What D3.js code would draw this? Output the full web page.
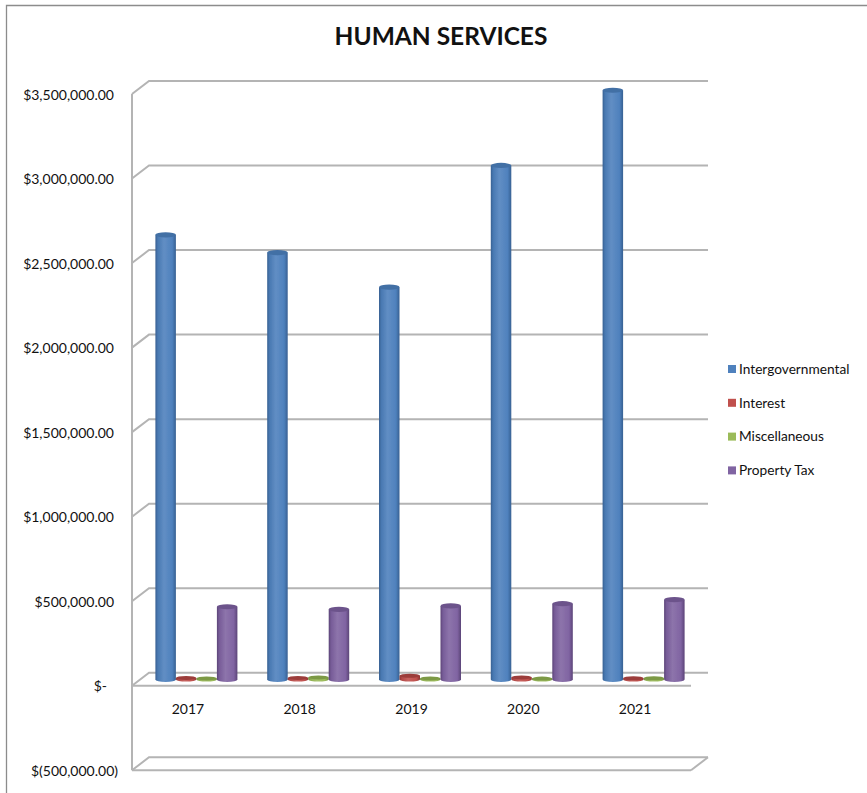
<!DOCTYPE html>
<html><head><meta charset="utf-8">
<script src="https://cdn.jsdelivr.net/npm/d3@7/dist/d3.min.js"></script>
<style>html,body{margin:0;padding:0;background:#fff}svg{display:block}text{font-family:Lato,"Open Sans",sans-serif;fill:#111}</style>
</head><body><div id="chart"></div>
<script>
const years = ["2017","2018","2019","2020","2021"];
const seriesNames = ["Intergovernmental","Interest","Miscellaneous","Property Tax"];
const intergovernmental = [2630000,2525000,2320000,3040000,3485000];
const interest = [9000,9000,22000,12000,7000];
const miscellaneous = [6000,12000,6000,5000,7000];
const propertyTax = [430000,415000,435000,448000,472000];
const seriesValues = [intergovernmental,interest,miscellaneous,propertyTax];
const tickValues = [-500000,0,500000,1000000,1500000,2000000,2500000,3000000,3500000];
const title = "HUMAN SERVICES";
const colors = ["#4f81bd","#c0504d","#9bbb59","#8064a2"];
const darks = ["#376092","#8c3533","#6f8a3c","#5c4578"];

const W=867,H=793, depthX=17, depthY=13, midX=8.5, midY=6.3, ry=2.6;
const svg=d3.select("#chart").append("svg").attr("width",W).attr("height",H);
const defs=svg.append("defs");
colors.forEach((c,i)=>{
  const g=defs.append("linearGradient").attr("id","cyl"+i);
  [[0,darks[i]],[.12,d3.interpolateRgb(darks[i],c)(.75)],[.42,d3.interpolateRgb(c,"#fff")(.1)],[.82,c],[1,darks[i]]]
    .forEach(([o,col])=>g.append("stop").attr("offset",o).attr("stop-color",col));
});
defs.append("filter").attr("id","soft").append("feGaussianBlur").attr("stdDeviation",.5);

const x=d3.scaleBand().domain(years).range([132,691]);
const y=d3.scaleLinear().domain([-500000,3500000]).range([770.3,94]);
const inner=d3.scaleBand().domain(seriesNames).range([x.bandwidth()/2-32.5,x.bandwidth()/2+49.5]);

// frame
svg.append("path").attr("d",`M6.5,${H}V5.5H${W}`).attr("fill","none").attr("stroke","#8c8c8c").attr("stroke-width",1.3);

// title
svg.append("text").attr("x",441).attr("y",44.5).attr("text-anchor","middle")
  .attr("font-size",24.5).attr("font-weight",700).text(title);

// walls and gridlines
const grid=svg.append("g").attr("fill","none").attr("stroke","#b4b4b4").attr("stroke-width",2).attr("filter","url(#soft)");
const x0=x.range()[0], x1=x.range()[1];
grid.selectAll("path.g").data(tickValues).join("path").attr("class","g")
  .attr("d",v=>`M${x0},${y(v)}L${x0+depthX},${y(v)-depthY}H${x1+depthX}`);
grid.append("path").attr("d",`M${x0},${y(-500000)}V${y(3500000)}`);
[-500000,0].forEach(v=>grid.append("path").attr("d",`M${x0},${y(v)}H${x1}`));
grid.append("path").attr("d",`M${x1},${y(-500000)}L${x1+depthX},${y(-500000)-depthY}`);

// cylinders
const bars=svg.append("g").attr("filter","url(#soft)");
years.forEach((yr,j)=>seriesNames.forEach((s,i)=>{
  const v=seriesValues[i][j], w=inner.bandwidth();
  const l=x(yr)+inner(s), r=l+w, b=y(0)-midY, t=y(v)-midY;
  const big=v>100000, rr=big?ry:2;
  bars.append("path").attr("fill",`url(#cyl${i})`)
    .attr("d",`M${l},${t}V${b}A${w/2},${rr} 0 0 0 ${r},${b}V${t}Z`);
  bars.append("ellipse").attr("cx",l+w/2).attr("cy",t).attr("rx",w/2).attr("ry",rr)
    .attr("fill",big?d3.interpolateRgb(darks[i],colors[i])(.45):d3.interpolateRgb(darks[i],colors[i])(.3));
}));

// value axis
const axisG=svg.append("g").attr("transform","translate(114,0)")
  .call(d3.axisLeft(y).tickValues(tickValues).tickSize(0).tickPadding(0)
    .tickFormat(v=>v===0?"$-":v<0?`$(${d3.format(",.2f")(-v)})`:`$${d3.format(",.2f")(v)}`));
axisG.select(".domain").remove();
axisG.selectAll("text").attr("font-size",14).style("font-family",'Lato,"Open Sans",sans-serif')
  .attr("dx",v=>v===0?-7:v<0?4:0).attr("dy",".36em");

// category axis
const catG=svg.append("g").attr("transform",`translate(0,${y(0)+18})`)
  .call(d3.axisBottom(x).tickSize(0).tickPadding(0));
catG.select(".domain").remove();
catG.selectAll("text").attr("font-size",14).style("font-family",'Lato,"Open Sans",sans-serif');

// legend
const lg=svg.append("g").selectAll("g").data(seriesNames).join("g")
  .attr("transform",(d,i)=>`translate(728,${369+i*33.8})`);
lg.append("rect").attr("y",-4).attr("width",8).attr("height",8).attr("fill",(d,i)=>colors[i]);
lg.append("text").attr("x",11).attr("dy",".35em").attr("font-size",13.7).text(d=>d);
</script></body></html>
